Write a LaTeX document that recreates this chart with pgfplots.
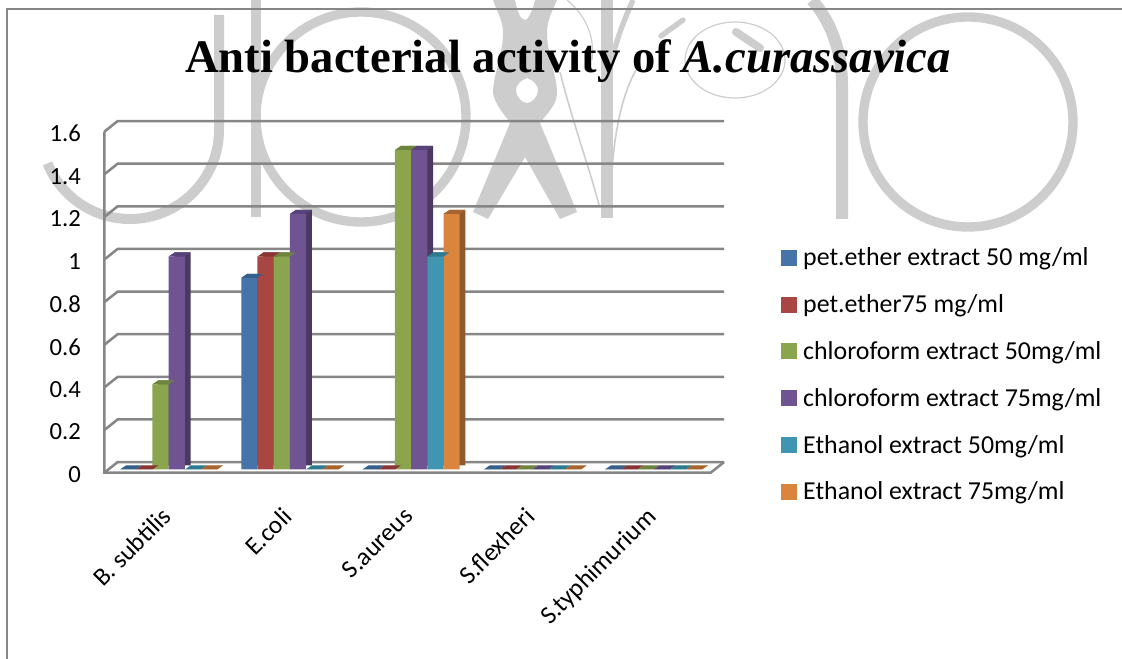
\documentclass[border=0pt]{standalone}
\usepackage{pgfplots}
\usepackage{pgfplotstable}
\usepackage{fontspec}
\pgfplotsset{compat=1.18}
\setmainfont{Carlito}
\newfontfamily\timesf{Liberation Serif}

\definecolor{gridc}{HTML}{868686}
\definecolor{wm}{HTML}{CDCDCD}
\definecolor{bF}{HTML}{4674A8}\definecolor{bS}{HTML}{345A85}\definecolor{bT}{HTML}{365F8A}
\definecolor{rF}{HTML}{A84643}\definecolor{rS}{HTML}{843431}\definecolor{rT}{HTML}{8A3533}
\definecolor{gF}{HTML}{8AA54E}\definecolor{gS}{HTML}{6A803A}\definecolor{gT}{HTML}{6E843E}
\definecolor{pF}{HTML}{705492}\definecolor{pS}{HTML}{4A3A62}\definecolor{pT}{HTML}{57427A}
\definecolor{tF}{HTML}{4096B0}\definecolor{tS}{HTML}{2F7488}\definecolor{tT}{HTML}{2E7B90}
\definecolor{oF}{HTML}{DA843D}\definecolor{oS}{HTML}{8F5A2B}\definecolor{oT}{HTML}{A8642D}

\pgfplotstableread{
x y
0 0
1 0.9
2 0
3 0
4 0
}\petA
\pgfplotstableread{
x y
0 0
1 1
2 0
3 0
4 0
}\petB
\pgfplotstableread{
x y
0 0.4
1 1
2 1.5
3 0
4 0
}\chlA
\pgfplotstableread{
x y
0 1
1 1.2
2 1.5
3 0
4 0
}\chlB
\pgfplotstableread{
x y
0 0
1 0
2 1
3 0
4 0
}\ethA
\pgfplotstableread{
x y
0 0
1 0
2 1.2
3 0
4 0
}\ethB

\pgfdeclareplotmark{topface}{%
  \pgfpathmoveto{\pgfqpoint{-6.075pt}{0pt}}%
  \pgfpathlineto{\pgfqpoint{-1.775pt}{3pt}}%
  \pgfpathlineto{\pgfqpoint{10.375pt}{3pt}}%
  \pgfpathlineto{\pgfqpoint{6.075pt}{0pt}}%
  \pgfpathclose\pgfusepathqfill}

% #1 table, #2 shift (pt), #3 shift+depth (pt), #4 front, #5 side, #6 top
\newcommand\barseries[6]{%
  \addplot[forget plot,ybar,bar width=12.15pt,bar shift=#3pt,yshift=3pt,fill=#5,draw=none] table[x=x,y=y] {#1};
  \addplot[forget plot,ybar,bar width=12.15pt,bar shift=#2pt,fill=#4,draw=none] table[x=x,y=y] {#1};
  \addplot[forget plot,only marks,xshift=#2pt,mark=topface,mark options={fill=#6,draw=none}] table[x=x,y=y] {#1};
}
\pgfplotsset{sq/.style={legend image code/.code={\fill[#1] (0pt,-5.6pt) rectangle (11.25pt,5.6pt);\path[draw=none,fill=none] (0pt,0pt) -- (16.5pt,0pt);}}}

\begin{document}
\begin{tikzpicture}[x=0.75pt,y=-0.75pt]
\useasboundingbox (0,0) rectangle (1122,659);
% watermark
\begin{scope}[draw=wm,line cap=butt]
  \draw[line width=7.5pt] (219,15) -- (219,130) arc[start angle=0,end angle=158,radius=89];
  \draw[line width=8pt] (256,0) -- (256,217);
  \draw[line width=7pt] (361,117) circle[radius=105];
  \draw[line width=7pt] (968,122) circle[radius=105];
  \fill[wm,even odd rule] (493,0) .. controls (497,12) and (503,20) .. (503,33)
     .. controls (503,55) and (493,75) .. (493,93)
     .. controls (495,105) and (505,115) .. (510,123)
     -- (473,212) -- (488,219) -- (525,157) -- (560,219) -- (577,212) -- (540,123)
     .. controls (548,112) and (557,105) .. (557,93)
     .. controls (557,75) and (547,55) .. (547,33)
     .. controls (547,20) and (552,12) .. (557,0)
     -- (535,0) .. controls (533,10) and (528,20) .. (525,20)
     .. controls (520,20) and (517,10) .. (515,0) -- cycle
     (527,78) .. controls (533,80) and (538,85) .. (538,90)
     .. controls (538,97) and (532,103) .. (527,103)
     .. controls (522,103) and (516,97) .. (516,90)
     .. controls (516,85) and (521,80) .. (527,78) -- cycle;
  \draw[line width=9.5pt] (607,0) -- (607,218);
  \draw[line width=4pt] (607,85) .. controls (612,50) and (622,25) .. (633,0);
  \draw[line width=9pt] (812,0) .. controls (830,20) and (842,50) .. (842,85) -- (842,219);
  \draw[line width=0.9pt] (567,0) .. controls (585,15) and (595,35) .. (592,60);
  \draw[line width=1.2pt] (560,72) .. controls (572,120) and (590,170) .. (599,205);
  \draw[line width=1.2pt] (636,70) .. controls (622,95) and (615,130) .. (612,170);
  \draw[line width=0.9pt] (735,60) ellipse[x radius=50,y radius=38];
  \draw[line width=4pt,line cap=round] (661,36) -- (683,20);
  \draw[line width=6pt,line cap=round] (736,32) -- (760,48);
\end{scope}
% chart frame
\draw[gridc,line width=1.6pt] (7,659) -- (7,9) -- (1122,9);

% walls, gridlines, tick labels and title
\begin{axis}[
  at={(78.225pt,-354.525pt)},anchor=south west,
  scale only axis,width=454.8pt,height=255.75pt,
  xmin=-0.5,xmax=4.5,ymin=0,ymax=1.6,clip=false,
  axis line style={draw=none},
  axis x line*=bottom,axis y line*=left,
  xtick={0,1,2,3,4},
  xticklabels={B. subtilis,E.coli,S.aureus,S.flexheri,S.typhimurium},
  ytick={0,0.2,0.4,0.6,0.8,1,1.2,1.4,1.6},
  yticklabels={0,0.2,0.4,0.6,0.8,1,1.2,1.4,1.6},
  major tick length=0pt,
  yticklabel style={font=\fontsize{18.5}{20}\selectfont,text=black,anchor=east,xshift=-14pt,yshift=-1.5pt},
  xticklabel style={font=\fontsize{19}{20}\selectfont,text=black,rotate=45,anchor=north east,xshift=-16.9pt,yshift=-11.5pt},
  title={{\timesf\bfseries\fontsize{35}{40}\selectfont Anti bacterial activity of \textit{A.curassavica}}},
  title style={at={(axis description cs:0.7647,1.149)},anchor=base,inner sep=0pt},
]
\pgfplotsinvokeforeach{0,0.2,0.4,0.6,0.8,1,1.2,1.4,1.6}{
  \draw[gridc,line width=1.9pt] (axis cs:-0.5,#1) -- ++(10.05pt,8pt) -- ++(454.8pt,0pt);
}
\draw[gridc,line width=1.9pt] (axis cs:-0.5,1.6) -- (axis cs:-0.5,0) -- (axis cs:4.5,0) -- ++(10.05pt,8pt);
\end{axis}

% bars
\begin{axis}[
  at={(81pt,-352.125pt)},anchor=south west,
  scale only axis,width=454.69pt,height=255.6pt,
  xmin=-0.5,xmax=4.5,ymin=0,ymax=1.6,clip=false,
  axis lines=none,
  legend style={at={(axis description cs:1.110,0.653)},anchor=north west,draw=none,fill=none,
    inner sep=0pt,outer sep=0pt,row sep=19.1pt,
    font=\fontsize{19.4}{20}\selectfont,
    nodes={text height=14.25pt,text depth=1.75pt,inner sep=0pt}},
  legend cell align=left,
]
\addlegendimage{sq=bF}\addlegendentry{pet.ether extract 50 mg/ml}
\addlegendimage{sq=rF}\addlegendentry{pet.ether75 mg/ml}
\addlegendimage{sq=gF}\addlegendentry{chloroform extract 50mg/ml}
\addlegendimage{sq=pF}\addlegendentry{chloroform extract 75mg/ml}
\addlegendimage{sq=tF}\addlegendentry{Ethanol extract 50mg/ml}
\addlegendimage{sq=oF}\addlegendentry{Ethanol extract 75mg/ml}
\barseries{\petA}{-30.375}{-26.075}{bF}{bS}{bT}
\barseries{\petB}{-18.225}{-13.925}{rF}{rS}{rT}
\barseries{\chlA}{-6.075}{-1.775}{gF}{gS}{gT}
\barseries{\chlB}{6.075}{10.375}{pF}{pS}{pT}
\barseries{\ethA}{18.225}{22.525}{tF}{tS}{tT}
\barseries{\ethB}{30.375}{34.675}{oF}{oS}{oT}
\end{axis}
\end{tikzpicture}
\end{document}
